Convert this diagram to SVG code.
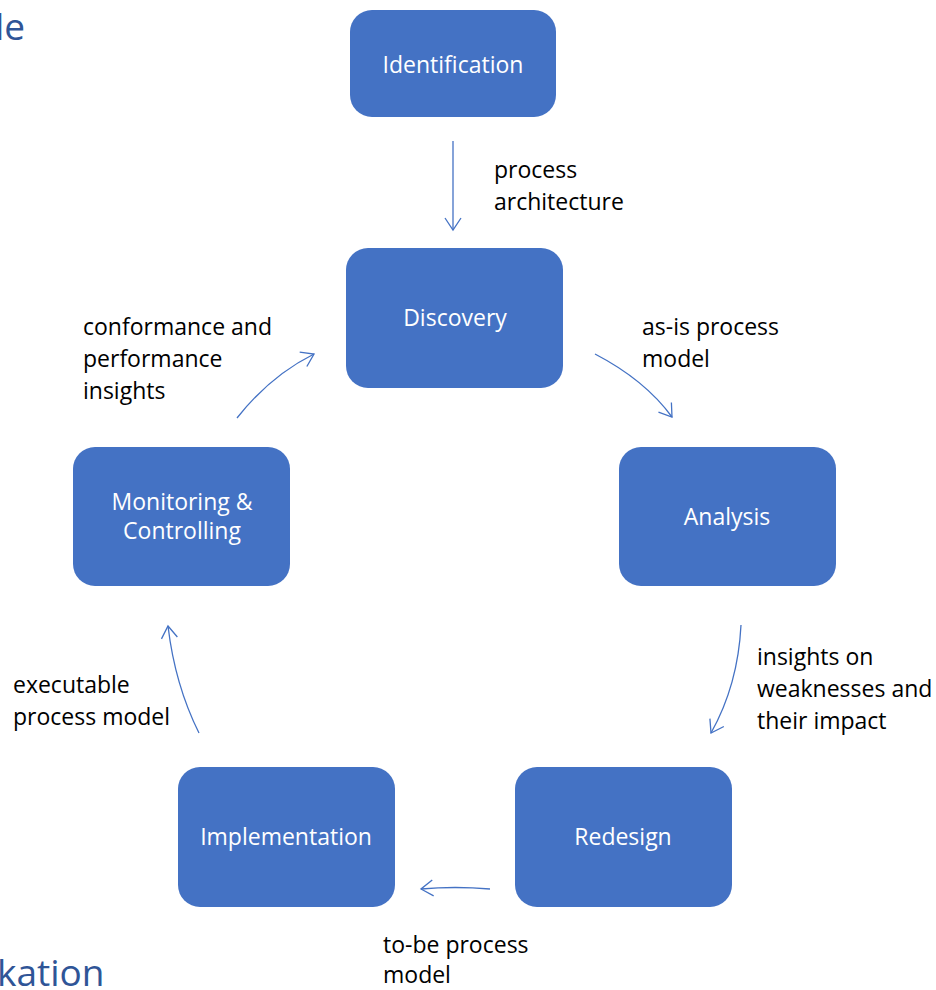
<svg xmlns="http://www.w3.org/2000/svg" width="936" height="990" viewBox="0 0 936 990">
<style>
.node rect{fill:#4472C4;}
.nt{fill:#fff;font-family:"Open Sans","Liberation Sans",sans-serif;font-size:23px;text-anchor:middle;}
.lb{fill:#000;font-family:"Open Sans","Liberation Sans",sans-serif;font-size:23px;}
.bg{fill:#2F5597;font-family:"Open Sans","Liberation Sans",sans-serif;font-size:37px;}
.c{fill:none;stroke:#4472C4;stroke-width:1.3;marker-end:url(#ah);}
</style>
<defs>
<marker id="ah" viewBox="0 0 20 20" refX="18" refY="10" markerWidth="20" markerHeight="20" markerUnits="userSpaceOnUse" orient="auto">
<path d="M6,2 L18,10 L6,18" fill="none" stroke="#4472C4" stroke-width="1.3"/>
</marker>
</defs>
<rect width="936" height="990" fill="#fff"/>
<text class="bg" x="-5" y="40">le</text>
<text class="bg" x="-3" y="986">kation</text>
<g id="identification" class="node"><rect x="350" y="10" width="206" height="107" rx="22"/><text class="nt" x="453" y="73">Identification</text></g>
<g id="discovery" class="node"><rect x="346" y="248" width="217" height="140" rx="22"/><text class="nt" x="455" y="326">Discovery</text></g>
<g id="analysis" class="node"><rect x="619" y="447" width="217" height="139" rx="22"/><text class="nt" x="727" y="525">Analysis</text></g>
<g id="redesign" class="node"><rect x="515" y="767" width="217" height="140" rx="22"/><text class="nt" x="623" y="845">Redesign</text></g>
<g id="implementation" class="node"><rect x="178" y="767" width="217" height="140" rx="22"/><text class="nt" x="286" y="845">Implementation</text></g>
<g id="monitoring" class="node"><rect x="73" y="447" width="217" height="139" rx="22"/><text class="nt" x="182" y="510">Monitoring &amp;</text><text class="nt" x="182" y="539">Controlling</text></g>
<g id="connectors">
<path class="c" d="M453,141 L453,230"/>
<path class="c" d="M595,354 Q645,380 672,417"/>
<path class="c" d="M741,625 Q738,685 711,733"/>
<path class="c" d="M490,889 Q455,886 421,889"/>
<path class="c" d="M199,733 Q175,685 168,626"/>
<path class="c" d="M237,418 Q270,376 314,354"/>
</g>
<g id="labels">
<text class="lb" x="494" y="178">process</text>
<text class="lb" x="494" y="210">architecture</text>
<text class="lb" x="83" y="335">conformance and</text>
<text class="lb" x="83" y="367">performance</text>
<text class="lb" x="83" y="399">insights</text>
<text class="lb" x="642" y="335">as-is process</text>
<text class="lb" x="642" y="367">model</text>
<text class="lb" x="757" y="665">insights on</text>
<text class="lb" x="757" y="697">weaknesses and</text>
<text class="lb" x="757" y="729">their impact</text>
<text class="lb" x="13" y="693">executable</text>
<text class="lb" x="13" y="725">process model</text>
<text class="lb" x="383" y="953">to-be process</text>
<text class="lb" x="383" y="983">model</text>
</g>
</svg>
